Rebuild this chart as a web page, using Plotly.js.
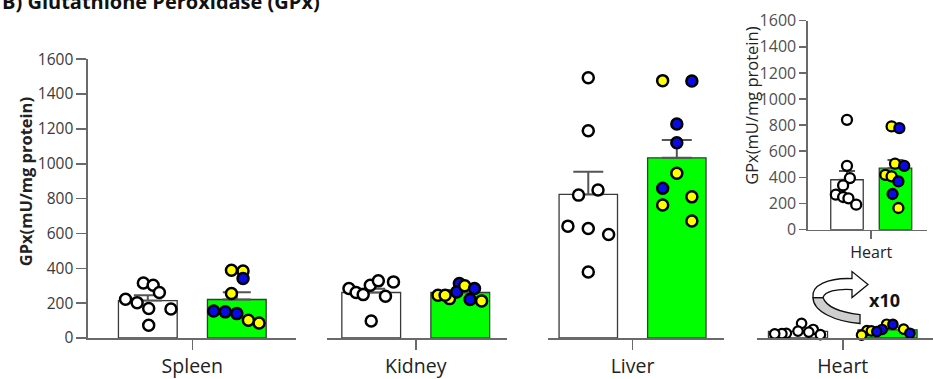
<!DOCTYPE html>
<html><head><meta charset="utf-8">
<script src="https://cdn.plot.ly/plotly-3.0.1.min.js"></script>
<style>html,body{margin:0;padding:0;background:#fff}#chart{width:933px;height:379px}</style>
</head><body><div id="chart"></div>
<script>
// ---------- data ----------
const groups = ['Spleen', 'Kidney', 'Liver', 'Heart'];

const spleenBar = [215, 221];
const spleenErr = [30, 42];
const spleenCtrl = [316, 303, 261, 222, 203, 169, 167, 73];
const spleenCtrlX = [-0.05, 0.06, 0.13, -0.25, -0.12, 0.01, 0.26, 0.01];
const spleenTrt = [389, 385, 341, 255, 155, 150, 140, 102, 86];
const spleenTrtX = [0.94, 1.07, 1.07, 0.94, 0.74, 0.87, 1.0, 1.13, 1.25];
const spleenTrtC = ['y', 'y', 'b', 'y', 'b', 'b', 'b', 'y', 'y'];

const kidneyBar = [261, 261];
const kidneyErr = [22, 14];
const kidneyCtrl = [284, 261, 249, 303, 328, 322, 240, 98];
const kidneyCtrlX = [-0.25, -0.17, -0.09, -0.01, 0.08, 0.25, 0.16, 0.0];
const kidneyTrt = [245, 226, 313, 264, 300, 284, 221, 213, 245];
const kidneyTrtX = [0.75, 0.88, 0.99, 0.96, 1.05, 1.16, 1.11, 1.24, 0.83];
const kidneyTrtC = ['y', 'y', 'b', 'b', 'y', 'b', 'b', 'y', 'y'];

const liverBar = [824, 1034];
const liverErr = [130, 102];
const liverCtrl = [1494, 1190, 849, 820, 642, 629, 594, 379];
const liverCtrlX = [0, 0, 0.11, -0.11, -0.23, 0, 0.23, 0];
const liverTrt = [1477, 1475, 1228, 1121, 945, 859, 810, 763, 671];
const liverTrtX = [0.84, 1.17, 1.0, 1.0, 1.0, 0.84, 1.17, 0.84, 1.17];
const liverTrtC = ['y', 'b', 'b', 'b', 'y', 'b', 'y', 'y', 'y'];

// heart values as shown in the x10 inset
const heartBar = [382, 471];
const heartErr = [68, 62];
const heartCtrl = [841, 489, 395, 339, 268, 250, 240, 191];
const heartCtrlX = [0, 0, 0.06, -0.08, -0.23, -0.08, 0.03, 0.19];
const heartTrt = [790, 777, 505, 489, 420, 408, 369, 273, 166];
const heartTrtX = [0.92, 1.08, 0.99, 1.18, 0.79, 0.92, 1.06, 0.94, 1.06];
const heartTrtC = ['y', 'b', 'y', 'b', 'y', 'y', 'b', 'b', 'y'];
// positions of the same heart points in the main (unzoomed) panel
const heartMainCtrlX = [0.04, 0.17, 0.0, 0.12, -0.13, -0.18, -0.26, 0.25];
const heartMainTrtX = [0.99, 1.06, 1.18, 0.94, 0.77, 0.82, 0.88, 1.25, 0.71];
const zoomFactor = 10;

const yTicks = [0, 200, 400, 600, 800, 1000, 1200, 1400, 1600];

// ---------- styling ----------
const W = 933, H = 379, MB = 40.5, PH = H - MB;
const px = x => x / W;
const py = y => (PH - y) / PH;
const GREEN = '#00ff00', YEL = '#ffff00', BLUE = '#0a0ae6';
const colMap = {y: YEL, b: BLUE};
const AX = '#6a6a6a';
const FONT = 'Open Sans';

const traces = [];
function addGroup(xa, ya, bar, err, ctrl, ctrlX, trt, trtX, trtC, msize, mline, capw, bw) {
  traces.push({type: 'bar', x: [0, 1], y: bar, width: bw, xaxis: xa, yaxis: ya,
    marker: {color: ['#ffffff', GREEN], line: {color: '#3a3a3a', width: 1.3}},
    error_y: err ? {type: 'data', symmetric: false, array: err, arrayminus: [0, 0], color: '#555', thickness: 2, width: capw} : undefined,
    hoverinfo: 'skip', showlegend: false});
  traces.push({type: 'scatter', mode: 'markers', x: ctrlX, y: ctrl, xaxis: xa, yaxis: ya,
    marker: {size: msize, color: '#ffffff', line: {color: '#000', width: mline}}, showlegend: false, cliponaxis: false});
  traces.push({type: 'scatter', mode: 'markers', x: trtX, y: trt, xaxis: xa, yaxis: ya,
    marker: {size: msize, color: trtC.map(c => colMap[c]), line: {color: '#000', width: mline}}, showlegend: false, cliponaxis: false});
}
addGroup('x', 'y', spleenBar, spleenErr, spleenCtrl, spleenCtrlX, spleenTrt, spleenTrtX, spleenTrtC, 11, 2.5, 14, 0.66);
addGroup('x2', 'y', kidneyBar, kidneyErr, kidneyCtrl, kidneyCtrlX, kidneyTrt, kidneyTrtX, kidneyTrtC, 11, 2.5, 14, 0.66);
addGroup('x3', 'y', liverBar, liverErr, liverCtrl, liverCtrlX, liverTrt, liverTrtX, liverTrtC, 11, 2.5, 15, 0.66);
addGroup('x4', 'y', heartBar.map(v => v / zoomFactor), null,
  heartCtrl.map(v => v / zoomFactor), heartMainCtrlX,
  heartTrt.map(v => v / zoomFactor), heartMainTrtX, heartTrtC, 9.5, 2.2, 0, 0.66);
addGroup('x5', 'y2', heartBar, heartErr, heartCtrl, heartCtrlX, heartTrt, heartTrtX, heartTrtC, 10, 2.3, 8, 0.67);

function xAxis(domain, range, label, fs, tl) {
  return {domain: domain, range: range, anchor: 'y', showline: true, linecolor: AX, linewidth: 1.6,
    ticks: 'outside', ticklen: tl, tickwidth: 1.6, tickcolor: AX, tickvals: [0.5], ticktext: [label],
    tickfont: {family: FONT, size: fs, color: '#222'}, showgrid: false, zeroline: false, fixedrange: true};
}
const layout = {
  width: W, height: H, margin: {l: 0, r: 0, t: 0, b: MB},
  paper_bgcolor: '#fff', plot_bgcolor: 'rgba(0,0,0,0)',
  font: {family: FONT}, showlegend: false, bargap: 0,
  xaxis: xAxis([px(88), px(296)], [-0.672, 1.665], groups[0], 19.5, 10),
  xaxis2: xAxis([px(326.7), px(507)], [-0.50, 1.525], groups[1], 19.5, 10),
  xaxis3: xAxis([px(548), px(724)], [-0.455, 1.533], groups[2], 19.5, 10),
  xaxis4: xAxis([px(757), 1], [-0.458, 1.508], groups[3], 19.5, 10),
  xaxis5: Object.assign(xAxis([px(808), px(927)], [-0.804, 1.65], groups[3], 16, 8), {anchor: 'y2'}),
  yaxis: {domain: [0, py(59.3)], range: [0, 1600], anchor: 'x', tickvals: yTicks, showline: true,
    linecolor: AX, linewidth: 1.6, ticks: 'outside', ticklen: 10, tickwidth: 1.6, tickcolor: AX,
    tickfont: {family: FONT, size: 15.5, color: '#3a3a3a'}, showgrid: false, zeroline: false, fixedrange: true},
  yaxis2: {domain: [py(230), py(20.7)], range: [0, 1600], anchor: 'x5', tickvals: yTicks, showline: true,
    linecolor: AX, linewidth: 1.6, ticks: 'outside', ticklen: 7, tickwidth: 1.6, tickcolor: AX,
    tickfont: {family: FONT, size: 16, color: '#505050'}, showgrid: false, zeroline: false, fixedrange: true},
  annotations: [
    {xref: 'paper', yref: 'paper', x: 0, y: py(17), xanchor: 'left', yanchor: 'bottom', showarrow: false,
      text: '<b>B) Glutathione Peroxidase (GPx)</b>', font: {family: FONT, size: 20, color: '#111'}},
    {xref: 'paper', yref: 'paper', x: px(25.5), y: py(182), xanchor: 'center', yanchor: 'middle', showarrow: false,
      textangle: -90, text: '<b>GPx(mU/mg protein)</b>', font: {family: FONT, size: 16.5, color: '#222'}},
    {xref: 'paper', yref: 'paper', x: px(752), y: py(106), xanchor: 'center', yanchor: 'middle', showarrow: false,
      textangle: -90, text: 'GPx(mU/mg protein)', font: {family: FONT, size: 16.5, color: '#222'}},
    {xref: 'paper', yref: 'paper', x: px(884), y: py(300), xanchor: 'center', yanchor: 'middle', showarrow: false,
      text: '<b>x10</b>', font: {family: FONT, size: 18, color: '#111'}}
  ],
  shapes: []
};

// curved "zoom" arrow (decoration), pixel coordinates converted to paper
function pathPx(cmds) {
  return cmds.map(c => typeof c === 'string' ? c : px(c[0]).toFixed(5) + ',' + py(c[1]).toFixed(5)).join(' ');
}
layout.shapes.push({type: 'path', xref: 'paper', yref: 'paper', layer: 'above',
  path: pathPx(['M', [813, 298], 'C', [813, 312], [835, 322], [860, 324], 'L', [860, 315], 'C', [840, 313], [826, 307], [823, 298], 'Z']),
  fillcolor: '#cfcfcf', line: {color: '#111', width: 1.3}});
layout.shapes.push({type: 'path', xref: 'paper', yref: 'paper', layer: 'above',
  path: pathPx(['M', [813, 298], 'C', [811, 286], [828, 278], [852, 279], 'L', [852, 272], 'L', [868, 285], 'L', [852, 298],
    'L', [852, 290], 'C', [836, 289], [825, 292], [823, 298], 'Z']),
  fillcolor: '#ffffff', line: {color: '#111', width: 1.3}});

Plotly.newPlot('chart', traces, layout, {displayModeBar: false, staticPlot: true});
</script></body></html>
